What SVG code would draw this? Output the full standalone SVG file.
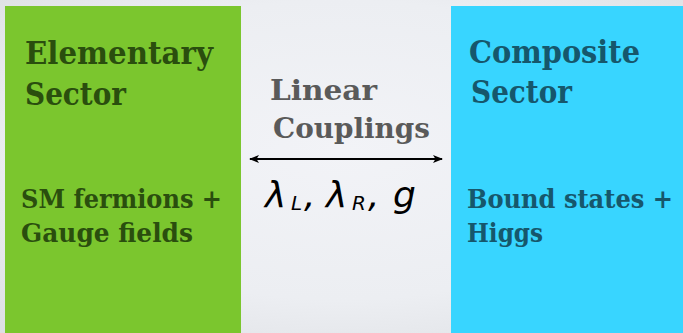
<svg xmlns="http://www.w3.org/2000/svg" width="683" height="333" viewBox="0 0 683 333">
<defs>
<radialGradient id="bg" cx="50%" cy="45%" r="75%">
<stop offset="0" stop-color="#f2f3f7"/>
<stop offset="0.6" stop-color="#eceef2"/>
<stop offset="1" stop-color="#dcdee2"/>
</radialGradient>
<marker id="ah" viewBox="0 0 10 10" refX="9" refY="5" markerWidth="10" markerHeight="10" markerUnits="userSpaceOnUse" orient="auto-start-reverse">
<path d="M0,1 L10,5 L0,9 L2.5,5 Z" fill="#000"/>
</marker>
</defs>
<style>
.t{font-family:"DejaVu Serif","Liberation Serif",serif;font-weight:bold}
.g{fill:#2a4e0e}
.b{fill:#16576c}
.c{fill:#5a5a5a}
.m{font-family:"DejaVu Sans","Liberation Sans",sans-serif;font-style:italic;fill:#000}
</style>
<rect width="683" height="333" fill="url(#bg)"/>
<g id="elementary">
<rect x="5" y="6" width="236" height="327" fill="#7bc62e"/>
<text class="t g" x="25" y="64" font-size="31" textLength="188" lengthAdjust="spacingAndGlyphs">Elementary</text>
<text class="t g" x="25" y="105" font-size="31" textLength="101" lengthAdjust="spacingAndGlyphs">Sector</text>
<text class="t g" x="21" y="208" font-size="26" textLength="201" lengthAdjust="spacingAndGlyphs">SM fermions +</text>
<text class="t g" x="21" y="242" font-size="26" textLength="172" lengthAdjust="spacingAndGlyphs">Gauge fields</text>
</g>
<g id="composite">
<rect x="451" y="6" width="232" height="327" fill="#38d5ff"/>
<text class="t b" x="469" y="63" font-size="31" textLength="171" lengthAdjust="spacingAndGlyphs">Composite</text>
<text class="t b" x="471" y="103" font-size="31" textLength="101" lengthAdjust="spacingAndGlyphs">Sector</text>
<text class="t b" x="467" y="208" font-size="26" textLength="206" lengthAdjust="spacingAndGlyphs">Bound states +</text>
<text class="t b" x="467" y="242" font-size="26" textLength="76" lengthAdjust="spacingAndGlyphs">Higgs</text>
</g>
<g id="couplings">
<text class="t c" x="270" y="100" font-size="28" textLength="107" lengthAdjust="spacingAndGlyphs">Linear</text>
<text class="t c" x="273" y="138" font-size="28" textLength="157" lengthAdjust="spacingAndGlyphs">Couplings</text>
<text class="m" font-size="36" y="207"><tspan x="265">λ</tspan><tspan x="291" y="210" font-size="20">L</tspan><tspan x="304" y="207">,</tspan><tspan x="326">λ</tspan><tspan x="352" y="210" font-size="20">R</tspan><tspan x="368" y="207">,</tspan><tspan x="393">g</tspan></text>
</g>
<g id="connectors">
<line x1="250" y1="159" x2="442" y2="159" stroke="#000" stroke-width="2" marker-start="url(#ah)" marker-end="url(#ah)"/>
</g>
</svg>
